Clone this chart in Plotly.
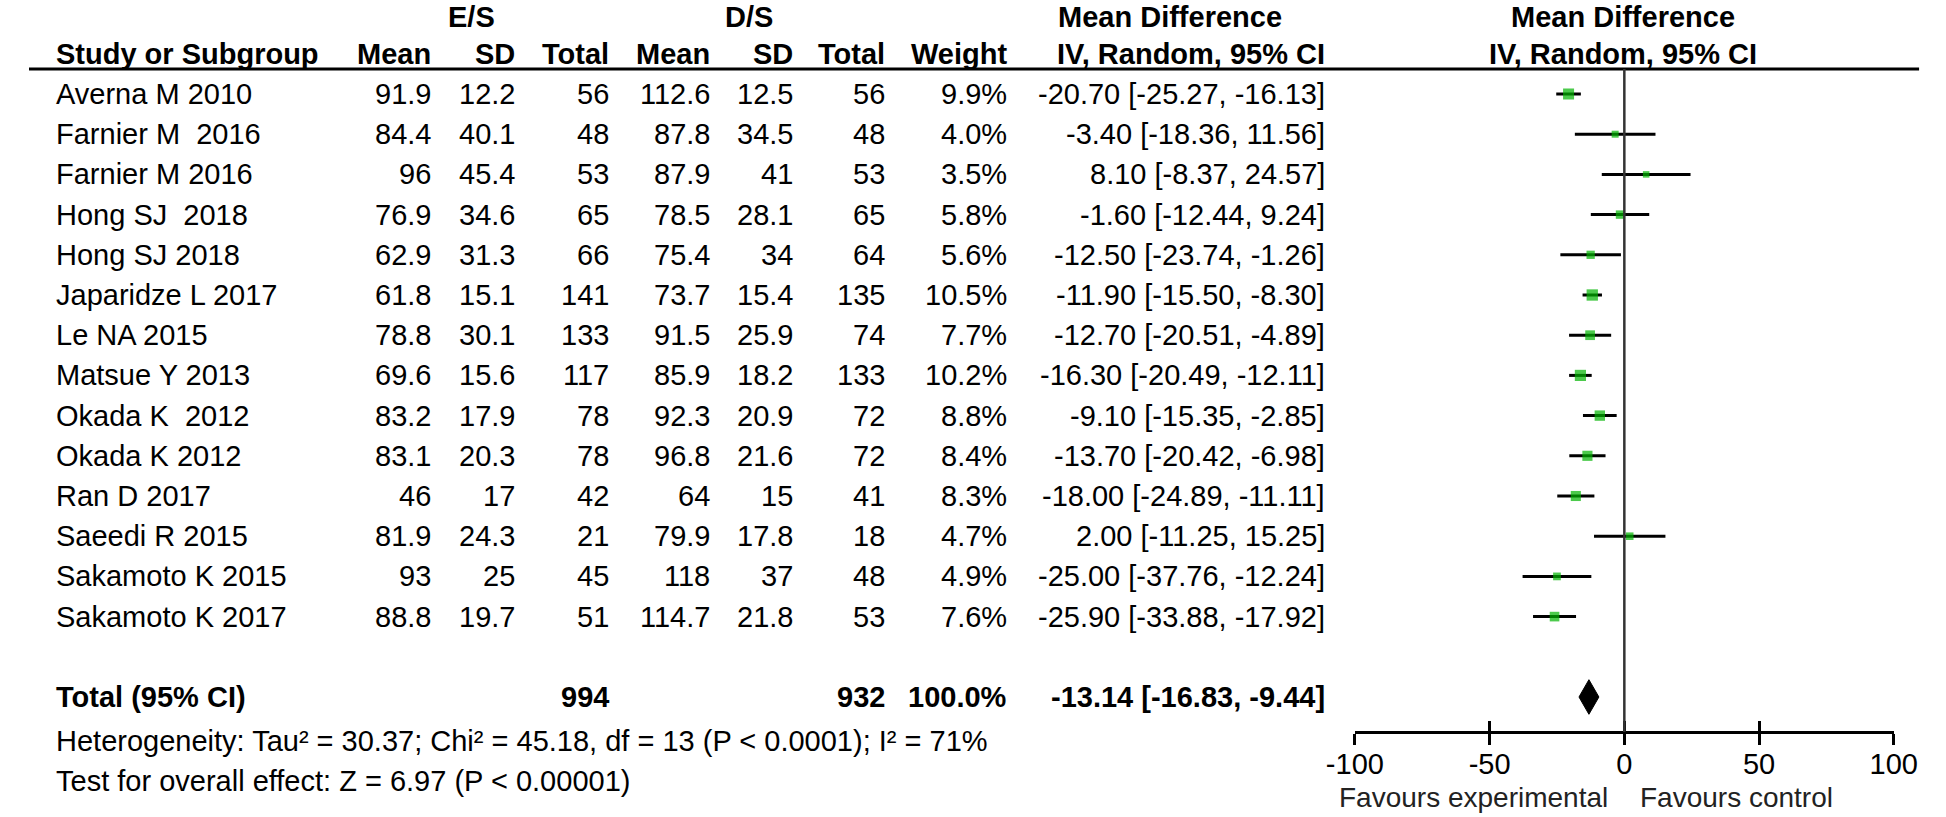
import plotly.graph_objects as go

# ---------------- data ----------------
studies = ["Averna M 2010", "Farnier M\u00a0 2016", "Farnier M 2016", "Hong SJ\u00a0 2018", "Hong SJ 2018",
           "Japaridze L 2017", "Le NA 2015", "Matsue Y 2013", "Okada K\u00a0 2012", "Okada K 2012",
           "Ran D 2017", "Saeedi R 2015", "Sakamoto K 2015", "Sakamoto K 2017"]
es_mean = [91.9, 84.4, 96, 76.9, 62.9, 61.8, 78.8, 69.6, 83.2, 83.1, 46, 81.9, 93, 88.8]
es_sd = [12.2, 40.1, 45.4, 34.6, 31.3, 15.1, 30.1, 15.6, 17.9, 20.3, 17, 24.3, 25, 19.7]
es_n = [56, 48, 53, 65, 66, 141, 133, 117, 78, 78, 42, 21, 45, 51]
ds_mean = [112.6, 87.8, 87.9, 78.5, 75.4, 73.7, 91.5, 85.9, 92.3, 96.8, 64, 79.9, 118, 114.7]
ds_sd = [12.5, 34.5, 41, 28.1, 34, 15.4, 25.9, 18.2, 20.9, 21.6, 15, 17.8, 37, 21.8]
ds_n = [56, 48, 53, 65, 64, 135, 74, 133, 72, 72, 41, 18, 48, 53]
weight = [9.9, 4.0, 3.5, 5.8, 5.6, 10.5, 7.7, 10.2, 8.8, 8.4, 8.3, 4.7, 4.9, 7.6]
md = [-20.70, -3.40, 8.10, -1.60, -12.50, -11.90, -12.70, -16.30, -9.10, -13.70, -18.00, 2.00, -25.00, -25.90]
ci_lo = [-25.27, -18.36, -8.37, -12.44, -23.74, -15.50, -20.51, -20.49, -15.35, -20.42, -24.89, -11.25, -37.76, -33.88]
ci_hi = [-16.13, 11.56, 24.57, 9.24, -1.26, -8.30, -4.89, -12.11, -2.85, -6.98, -11.11, 15.25, -12.24, -17.92]

total_es_n = 994
total_ds_n = 932
total_weight = 100.0
total_md = -13.14
total_lo = -16.83
total_hi = -9.44

x_ticks = [-100, -50, 0, 50, 100]
heterogeneity = "Heterogeneity: Tau² = 30.37; Chi² = 45.18, df = 13 (P &lt; 0.0001); I² = 71%"
overall = "Test for overall effect: Z = 6.97 (P &lt; 0.00001)"

# ---------------- layout helpers ----------------
W, H = 1946, 817
ROW0, STEP = 94.0, 40.2          # pixel y of first row, row spacing
def px_to_idx(p):
    return (p - ROW0) / STEP

def fx(px):
    return px / W

FONT = "Liberation Sans, Arial, sans-serif"
FS = 29
GREEN = "#00b400"

rows = list(range(len(studies)))
total_row = 15
het_row = px_to_idx(741)
test_row = px_to_idx(781)
hdr_row = px_to_idx(54)
top_row = px_to_idx(17)
rule_row = px_to_idx(69)
axis_px = 732

fig = go.Figure()

# study estimates with CIs
fig.add_trace(go.Scatter(
    x=md, y=rows, mode="markers",
    marker=dict(symbol="square", color=GREEN, size=[3.5 * w ** 0.5 for w in weight], line=dict(width=0)),
    error_x=dict(type="data", symmetric=False,
                 array=[h - m for h, m in zip(ci_hi, md)],
                 arrayminus=[m - l for m, l in zip(md, ci_lo)],
                 color="black", thickness=3, width=0),
    showlegend=False, hoverinfo="skip", xaxis="x", yaxis="y"))

# pooled diamond
dh = 0.43
fig.add_trace(go.Scatter(
    x=[total_lo, total_md, total_hi, total_md, total_lo],
    y=[total_row, total_row - dh, total_row, total_row + dh, total_row],
    mode="lines", fill="toself", fillcolor="black", line=dict(color="black", width=1),
    showlegend=False, hoverinfo="skip", xaxis="x", yaxis="y"))

ann = []
def txt(x_px, y, s, anchor="right", bold=False, yref="y", size=FS, color="black"):
    ann.append(dict(x=fx(x_px), xref="paper", y=y, yref=yref, text=(f"<b>{s}</b>" if bold else s),
                    xanchor=anchor, yanchor="middle", showarrow=False,
                    font=dict(family=FONT, size=size, color=color)))

# headers
txt(455, top_row, "E/S", "center", True)
txt(740, top_row, "D/S", "center", True)
txt(1173, top_row, "Mean Difference", "center", True)
txt(1639, top_row, "Mean Difference", "center", True)
txt(26, hdr_row, "Study or Subgroup", "left", True)
txt(415, hdr_row, "Mean", bold=True)
txt(502, hdr_row, "SD", bold=True)
txt(598, hdr_row, "Total", bold=True)
txt(702, hdr_row, "Mean", bold=True)
txt(787, hdr_row, "SD", bold=True)
txt(882, hdr_row, "Total", bold=True)
txt(1007, hdr_row, "Weight", bold=True)
txt(1334, hdr_row, "IV, Random, 95% CI", bold=True)
txt(1639, hdr_row, "IV, Random, 95% CI", "center", True)

# body
for i in rows:
    txt(26, i, studies[i], "left")
    txt(415, i, f"{es_mean[i]:g}")
    txt(502, i, f"{es_sd[i]:g}")
    txt(598, i, f"{es_n[i]}")
    txt(702, i, f"{ds_mean[i]:g}")
    txt(787, i, f"{ds_sd[i]:g}")
    txt(882, i, f"{ds_n[i]}")
    txt(1007, i, f"{weight[i]:.1f}%")
    txt(1334, i, f"{md[i]:.2f} [{ci_lo[i]:.2f}, {ci_hi[i]:.2f}]")

# totals
txt(26, total_row, "Total (95% CI)", "left", True)
txt(598, total_row, f"{total_es_n}", bold=True)
txt(882, total_row, f"{total_ds_n}", bold=True)
txt(1007, total_row, f"{total_weight:.1f}%", bold=True)
txt(1334, total_row, f"{total_md:.2f} [{total_lo:.2f}, {total_hi:.2f}]", bold=True)
txt(26, het_row, heterogeneity, "left")
txt(26, test_row, overall, "left")

# favours labels
txt(1625, 1 - 797 / H, "Favours experimental", "right", yref="paper", color="#222", size=28)
txt(1654, 1 - 797 / H, "Favours control", "left", yref="paper", color="#222", size=28)

shapes = [
    dict(type="line", xref="paper", x0=0, x1=fx(1943), yref="y", y0=rule_row, y1=rule_row,
         line=dict(color="black", width=3)),
    dict(type="line", xref="x", x0=0, x1=0, yref="y", y0=rule_row, y1=px_to_idx(axis_px),
         line=dict(color="#333", width=2.5)),
]

x_dom = [fx(1363), fx(1917)]
axis_pos = 1 - axis_px / H
fig.update_layout(
    width=W, height=H, margin=dict(l=0, r=0, t=0, b=0),
    paper_bgcolor="white", plot_bgcolor="white",
    xaxis=dict(domain=x_dom, range=[-100, 100], anchor="free", position=axis_pos,
               showline=True, linecolor="black", linewidth=3, ticks="outside", ticklen=11,
               tickwidth=3, tickcolor="black", tickvals=x_ticks, ticktext=[str(t) for t in x_ticks],
               ticklabelstandoff=-6,
               tickfont=dict(family=FONT, size=FS, color="black"), showgrid=False, zeroline=False),
    xaxis2=dict(domain=x_dom, range=[-100, 100], anchor="free", position=axis_pos, overlaying="x",
                showline=False, ticks="inside", ticklen=11, tickwidth=3, tickcolor="black",
                tickvals=x_ticks, showticklabels=False, showgrid=False, zeroline=False),
    yaxis=dict(domain=[0, 1], range=[px_to_idx(H), px_to_idx(0)], visible=False,
               showgrid=False, zeroline=False),
    annotations=ann, shapes=shapes, showlegend=False,
)
# dummy trace so xaxis2 is drawn
fig.add_trace(go.Scatter(x=[None], y=[None], xaxis="x2", yaxis="y", showlegend=False, hoverinfo="skip"))

fig.write_html("out.html", config={"displayModeBar": False},
               post_script="document.body.style.margin='0';document.body.style.overflow='hidden';")
